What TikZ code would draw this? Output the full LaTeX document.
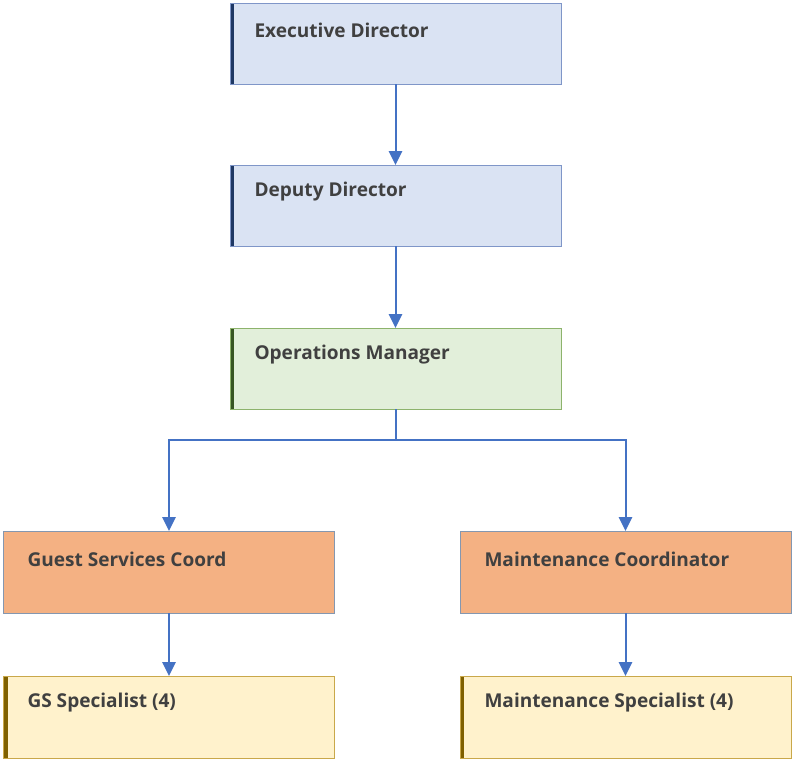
\documentclass[tikz,border=0pt]{standalone}
\usepackage{fontspec}
\setmainfont{Open Sans}
\usetikzlibrary{arrows.meta}

\definecolor{linkblue}{HTML}{4472C4}
\definecolor{txtgray}{HTML}{404040}
\definecolor{bluefill}{HTML}{DAE3F3}
\definecolor{blueline}{HTML}{7F96C8}
\definecolor{bluebar}{HTML}{1F3864}
\definecolor{greenfill}{HTML}{E2EFDA}
\definecolor{greenline}{HTML}{8DB36C}
\definecolor{greenbar}{HTML}{375623}
\definecolor{orangefill}{HTML}{F4B183}
\definecolor{orangeline}{HTML}{8497B0}
\definecolor{yellowfill}{HTML}{FFF2CC}
\definecolor{yellowline}{HTML}{C9A84A}
\definecolor{yellowbar}{HTML}{7F6000}

\tikzset{every picture/.style={line width=0.75pt}}
\tikzset{
  box/.style={rectangle, draw, line width=0.75pt, outer sep=0pt, inner sep=0pt,
    minimum width=248.25pt, minimum height=60.75pt},
  barbox/.style={box, path picture={
      \fill[#1] (path picture bounding box.north west) rectangle
        ([xshift=3.2pt]path picture bounding box.south west);}},
  lbl/.style={anchor=west, inner sep=0pt, text=txtgray, font=\fontsize{14.3}{17}\selectfont\bfseries},
  link/.style={draw=linkblue, line width=1.5pt, -{Triangle[length=10.5pt,width=10pt]}}
}

\begin{document}
\begin{tikzpicture}[x=0.75pt,y=0.75pt,yscale=-1,xscale=1]
	\useasboundingbox (0,0) rectangle (792,761);

	%Shape: Rectangle [id:ed]
	\node[barbox=bluebar, draw=blueline, fill=bluefill] (ed) at (395.5,43.5) {};
	%Shape: Rectangle [id:dd]
	\node[barbox=bluebar, draw=blueline, fill=bluefill] (dd) at (395.5,205.5) {};
	%Shape: Rectangle [id:ops]
	\node[barbox=greenbar, draw=greenline, fill=greenfill] (ops) at (395.5,368.5) {};
	%Shape: Rectangle [id:gsc]
	\node[box, draw=orangeline, fill=orangefill, minimum height=61.5pt] (gsc) at (169,572) {};
	%Shape: Rectangle [id:mc]
	\node[box, draw=orangeline, fill=orangefill, minimum height=61.5pt] (mc) at (625.5,572) {};
	%Shape: Rectangle [id:gss]
	\node[barbox=yellowbar, draw=yellowline, fill=yellowfill, minimum height=61.5pt] (gss) at (169,717) {};
	%Shape: Rectangle [id:ms]
	\node[barbox=yellowbar, draw=yellowline, fill=yellowfill, minimum height=61.5pt] (ms) at (625.5,717) {};

	%Straight Lines
	\coordinate (split) at (395.5,440);
	\draw[link] (ed) -- (dd);
	\draw[link] (dd) -- (ops);
	\draw[draw=linkblue, line width=1.5pt] (ops) -- (split);
	\draw[link] (split) -| (gsc);
	\draw[link] (split) -| (mc);
	\draw[link] (gsc) -- (gss);
	\draw[link] (mc) -- (ms);

	% Text Node
	\node[lbl] (edtext) at (254,30) {Executive Director};
	% Text Node
	\node[lbl] (ddtext) at (254,192) {Deputy Director};
	% Text Node
	\node[lbl] (opstext) at (254,355) {Operations Manager};
	% Text Node
	\node[lbl] (gsctext) at (27,559) {Guest Services Coord};
	% Text Node
	\node[lbl] (mctext) at (484,559) {Maintenance Coordinator};
	% Text Node
	\node[lbl] (gsstext) at (27,703) {GS Specialist (4)};
	% Text Node
	\node[lbl] (mstext) at (484,703) {Maintenance Specialist (4)};

\end{tikzpicture}
\end{document}
